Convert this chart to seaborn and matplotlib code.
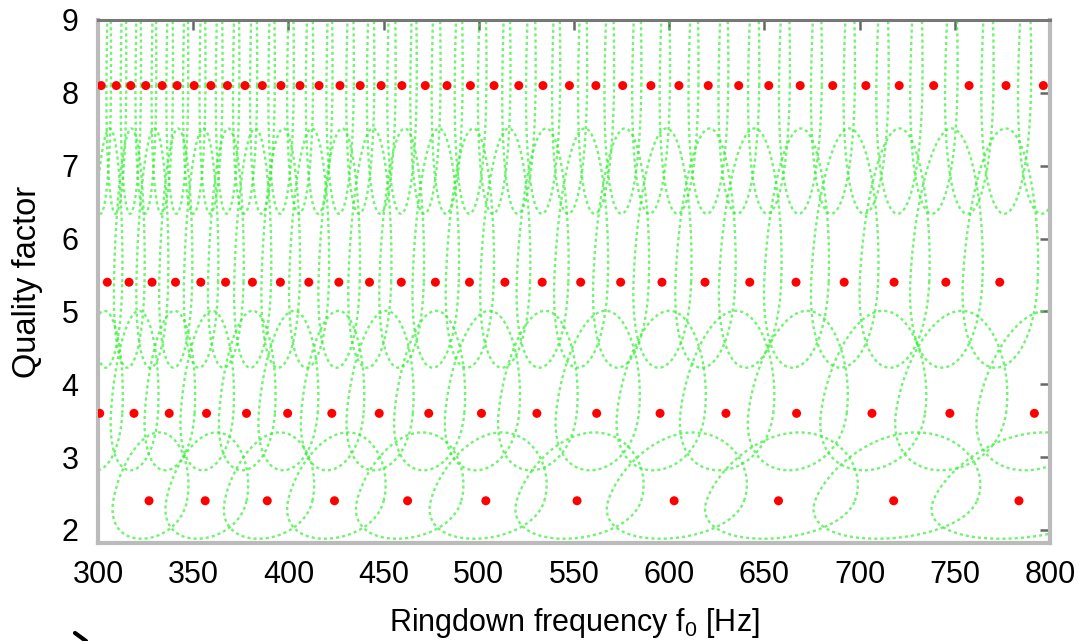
import numpy as np
import pandas as pd
import matplotlib
matplotlib.use("Agg")
import matplotlib.pyplot as plt
from matplotlib.lines import Line2D
import seaborn as sns

# Quality factor of each template row
q_rows = [2.4, 3.6, 5.4, 8.1]

# Ringdown frequencies (Hz) of the templates in each row
f_q24 = [326.8, 356.3, 388.9, 424.2, 462.6, 503.7, 551.6, 602.6, 657.4, 717.9, 783.7]
f_q36 = [300.9, 318.9, 337.4, 357.0, 378.0, 399.6, 422.8, 447.7, 473.7, 501.4,
         530.5, 561.9, 595.2, 629.8, 666.9, 706.5, 747.4, 791.8]
f_q54 = [304.9, 316.3, 328.4, 340.7, 354.0, 367.0, 381.1, 395.8, 410.7, 426.5,
         442.6, 459.3, 477.2, 495.1, 513.7, 533.3, 553.5, 574.5, 596.2, 618.8,
         642.3, 666.6, 691.9, 718.1, 745.3, 773.6]
f_q81 = [301.7, 309.6, 317.2, 325.1, 333.7, 341.6, 350.5, 359.3, 368.0, 377.2,
         386.3, 396.1, 406.1, 416.1, 427.1, 437.7, 448.7, 459.6, 471.9, 483.3,
         495.6, 508.0, 521.0, 533.7, 547.6, 561.5, 575.6, 590.4, 605.1, 620.5,
         636.5, 652.3, 668.8, 685.9, 703.3, 720.8, 738.9, 757.5, 776.9, 796.5]
row_freqs = [f_q24, f_q36, f_q54, f_q81]

# Match-contour shape for each row (in ln f / ln Q)
half_width_lnf = [0.0592, 0.0387, 0.0254, 0.0168]
tilt_lnf = [0.05, 0.025, 0.012, 0.005]
half_up_lnq = [0.33, 0.33, 0.33, 0.33]
half_down_lnq = [0.245, 0.245, 0.245, 0.245]

x_ticks = [300, 350, 400, 450, 500, 550, 600, 650, 700, 750, 800]
y_ticks = [2, 3, 4, 5, 6, 7, 8, 9]

# Template points table
points = pd.DataFrame(
    [(f, q) for q, fs in zip(q_rows, row_freqs) for f in fs],
    columns=["f", "Q"],
)

# Contour outlines around every template
t = np.linspace(0, 2 * np.pi, 240)
rows = []
tid = 0
for i, (q, fs) in enumerate(zip(q_rows, row_freqs)):
    v = np.sin(t)
    u = np.cos(t)
    dlnq = np.where(v > 0, half_up_lnq[i], half_down_lnq[i]) * v
    for f in fs:
        lnf = np.log(f) + half_width_lnf[i] * u + tilt_lnf[i] * dlnq
        lnq = np.log(q) + dlnq
        for a, b in zip(np.exp(lnf), np.exp(lnq)):
            rows.append((tid, a, b))
        tid += 1
contours = pd.DataFrame(rows, columns=["tid", "f", "Q"])

sns.set_theme(style="white")
plt.rcParams["font.family"] = ["Liberation Sans", "DejaVu Sans"]
plt.rcParams["mathtext.fontset"] = "custom"
plt.rcParams["mathtext.rm"] = "Liberation Sans"
plt.rcParams["text.color"] = "black"
plt.rcParams["axes.labelcolor"] = "black"

fig = plt.figure(figsize=(10.88, 6.41), dpi=100)
ax = fig.add_axes([98 / 1088, 1 - 543 / 641, (1050 - 98) / 1088, (543 - 20) / 641])

sns.lineplot(data=contours, x="f", y="Q", units="tid", estimator=None, sort=False,
             color="#33ee33", alpha=0.7, lw=1.7, linestyle=(0, (1.3, 1.3)),
             legend=False, ax=ax)
sns.scatterplot(data=points, x="f", y="Q", color="#ff0000", s=42, edgecolor="none",
                legend=False, ax=ax, zorder=3)

ax.set_xlim(300, 800)
ax.set_ylim(1.82, 9)
ax.set_xticks(x_ticks)
ax.set_yticks(y_ticks)
ax.tick_params(axis="both", direction="in", length=7, width=1.8, color="#666666",
               labelcolor="black", labelsize=22, top=True, right=True)
ax.tick_params(axis="x", pad=12)
ax.tick_params(axis="y", pad=14)

for side in ["left", "right", "bottom"]:
    ax.spines[side].set_color("#bbbbbb")
    ax.spines[side].set_linewidth(3)
ax.spines["top"].set_color("#777777")
ax.spines["top"].set_linewidth(2.2)

ax.set_xlabel("Ringdown frequency f$_0$ [Hz]", fontsize=22, color="black")
ax.set_ylabel("Quality factor", fontsize=23.5, color="black")
ax.xaxis.label.set_va("center")
ax.yaxis.label.set_va("center")
ax.xaxis.set_label_coords(0.5, (543 - 623) / 523)
ax.yaxis.set_label_coords((28 - 98) / 952, 0.5)

fig.add_artist(Line2D([75 / 1088, 86 / 1088], [1 - 633 / 641, 0.0],
                      transform=fig.transFigure, color="black", lw=3))

fig.savefig("out.png", dpi=100)
